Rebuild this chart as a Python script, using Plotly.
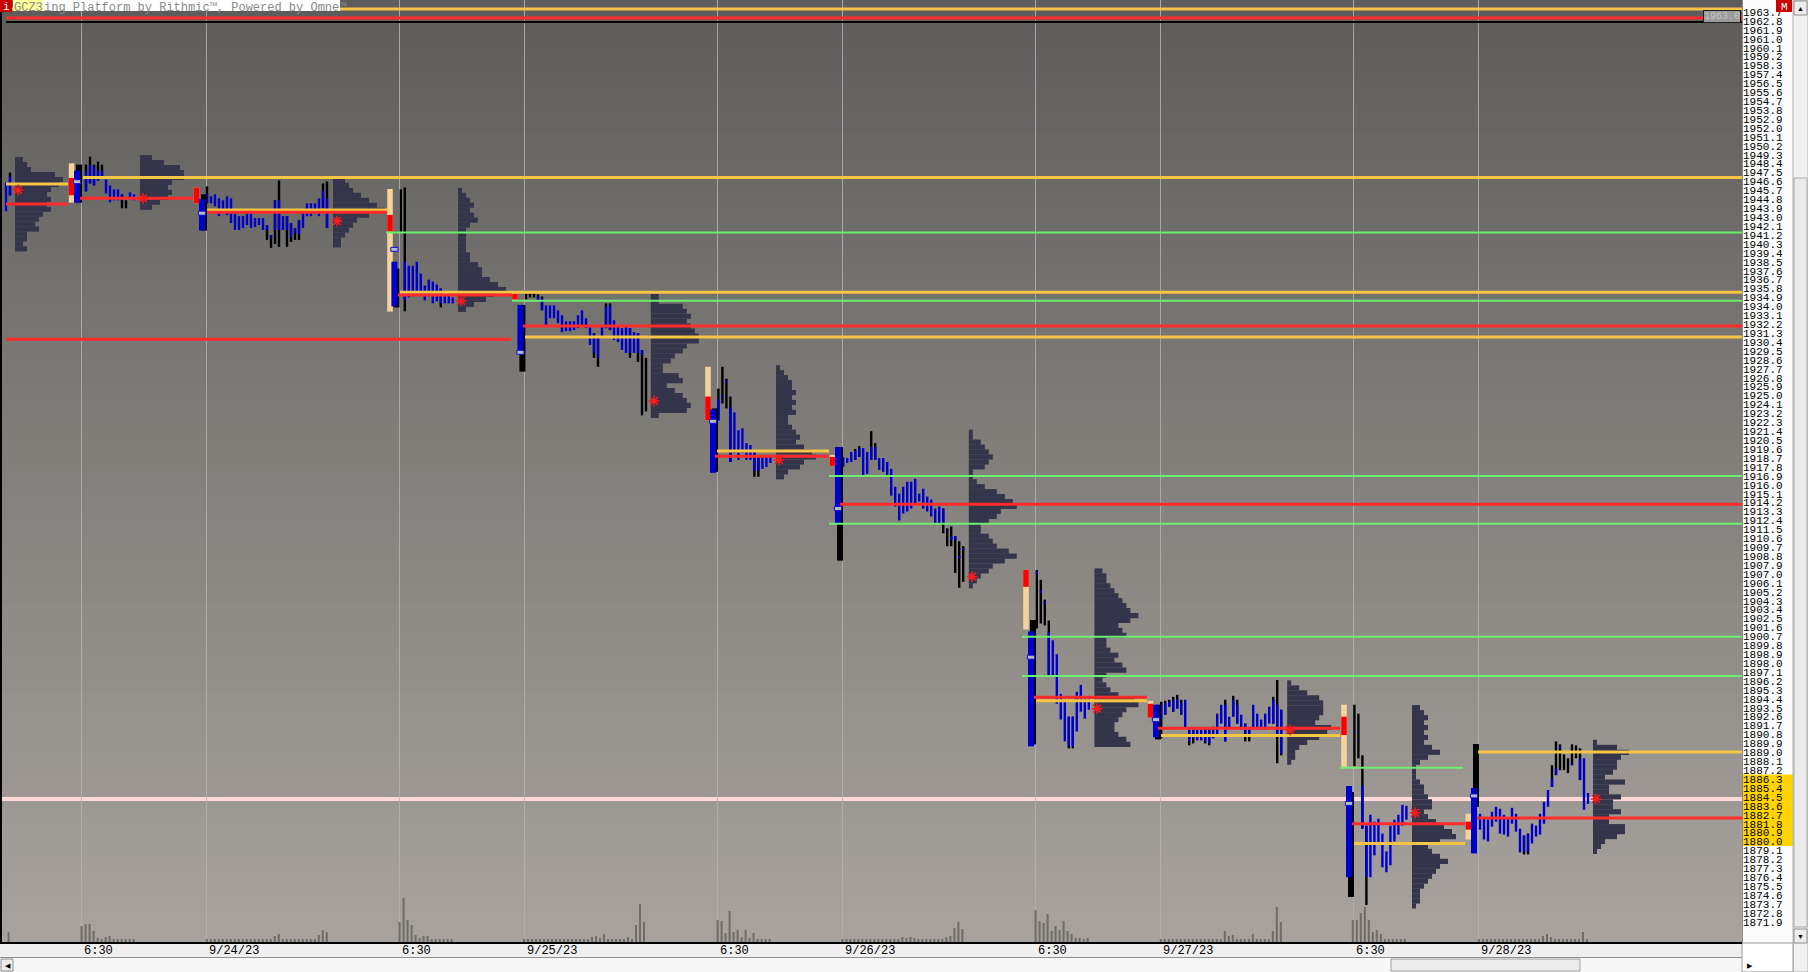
import plotly.graph_objects as go

# ------------------------------------------------------------------ axes / ticks
X_RANGE = [0, 435]                 # x unit = one 30-minute period slot
Y_RANGE = [1869.76, 1964.91]
X_TICK_POS = [19.83, 51.08, 99.33, 130.58, 178.83, 210.08, 258.33, 289.58, 337.83, 369.08]
X_TICK_TEXT = ["6:30", "9/24/23", "6:30", "9/25/23", "6:30", "9/26/23", "6:30", "9/27/23", "6:30", "9/28/23"]
Y_TICK_FIRST, Y_TICK_LAST, Y_TICK_STEP = 1871.9, 1963.7, 0.9
AXIS_HIGHLIGHT = (1886.3, 1880.0)
PROFILE_STEP = 0.5

# ------------------------------------------------------------------ sessions
# column = (x, tan_hi, tan_lo, red_hi, red_lo); ib = (x, black_hi, black_lo, blue_hi, blue_lo, open_mark)
# bars: (hi, lo) all blue, or (hi, lo, blue_hi, blue_lo) black range with blue part
S0_BAR_X = 1.0
S0_BARS = [(1946.5, 1943.6), (1947.5, 1945.2, 1947.1, 1945.2)]
S0_PROFILE_X, S0_PROFILE_TOP = 3.25, 1948.8
S0_PROFILE = [2, 3, 4, 10, 12, 11, 9, 8, 9, 8, 9, 7, 6, 5, 6, 3, 3, 2, 3]
S0_POC = (4.0, 1945.74)
S0_VOL_X, S0_VOL = 1.65, [11]

S1_COLUMN = (17.4, 1948.43, 1944.46, 1946.95, 1945.2)
S1_IB = (18.75, 1948.3, 1944.46, 1947.7, 1944.46, 1946.58)
S1_BAR_X = 21.0
S1_BARS = [(1948.3, 1945.6, 1947.7, 1945.6), (1949.1, 1946.4, 1948.3, 1946.4), (1948.3, 1946.2, 1948.1, 1946.2),
           (1948.6, 1946.7, 1947.7, 1946.7), (1948.3, 1947.0, 1947.7, 1947.0), (1946.8, 1945.4), (1946.2, 1944.5),
           (1945.8, 1944.7), (1945.8, 1944.7), (1945.3, 1943.9, 1945.3, 1944.7), (1944.7, 1943.9, None, None),
           (1945.5, 1944.9), (1945.3, 1944.7)]
S1_PROFILE_X, S1_PROFILE_TOP = 34.5, 1949.0
S1_PROFILE = [3, 6, 10, 11, 11, 8, 7, 8, 7, 5, 3]
S1_POC = (35.25, 1944.9)
S1_VOL_X, S1_VOL = 19.9, [17, 19, 19, 12, 5, 4, 6, 7, 4, 4, 4, 4, 4, 4]

S2_COLUMN = (48.6, 1946.0, 1944.4, 1946.0, 1944.4)
S2_IB = (50.0, 1945.3, 1941.65, 1944.8, 1941.65, 1943.4)
S2_BAR_X = 51.25
S2_BARS = [(1946.1, 1944.4, 1945.4, 1944.4), (1945.1, 1944.4), (1945.3, 1944.1), (1944.9, 1943.1), (1944.7, 1943.4),
           (1945.1, 1943.2), (1944.9, 1942.4), (1943.4, 1941.7), (1943.1, 1941.7), (1943.1, 1941.9), (1943.4, 1942.2),
           (1943.4, 1941.9), (1942.9, 1942.0), (1942.9, 1942.2), (1942.9, 1941.7), (1942.2, 1940.7, 1942.2, 1941.7),
           (1941.2, 1939.9, 1941.2, 1940.9), (1944.7, 1940.3, 1944.7, 1941.7), (1946.7, 1940.0, 1944.7, 1941.7),
           (1943.1, 1941.7), (1943.1, 1940.0, 1943.1, 1941.7), (1942.4, 1940.5, 1942.4, 1941.0),
           (1941.9, 1940.7, 1941.9, 1941.4), (1942.7, 1940.7, 1942.7, 1941.3), (1943.4, 1941.9), (1944.4, 1943.1),
           (1944.4, 1943.1), (1944.4, 1943.4), (1944.9, 1943.1), (1946.4, 1943.9, 1945.7, 1943.9),
           (1946.6, 1941.9, 1944.9, 1941.9)]
S2_PROFILE_X, S2_PROFILE_TOP = 82.75, 1946.7
S2_PROFILE = [3, 4, 5, 7, 9, 11, 13, 9, 6, 5, 4, 3, 2, 2]
S2_POC = (83.75, 1942.6)
S2_VOL_X = 51.2
S2_VOL = [4, 4, 4, 4, 4, 4, 4, 4, 4, 4, 4, 4, 4, 4, 4, 4, 4, 7, 9, 4, 4, 4, 4, 4, 4, 4, 4, 4, 8, 13, 11]

S3_COLUMN = (97.0, 1945.84, 1933.47, 1943.22, 1941.54)
S3_IB = (98.1, 1937.8, 1933.9, 1938.5, 1934.0, 1939.75)
S3_BAR_X = 99.7
S3_BARS = [(1945.8, 1941.5, None, None), (1946.0, 1933.5, 1938.5, 1934.6), (1938.1, 1934.9), (1938.1, 1935.0),
           (1938.5, 1935.3), (1937.3, 1935.1), (1936.1, 1934.6), (1936.7, 1935.0), (1936.5, 1934.3),
           (1936.2, 1934.5), (1935.8, 1933.9, 1935.8, 1934.3), (1935.1, 1934.3), (1935.1, 1934.3), (1934.9, 1934.3)]
S3_PROFILE_X, S3_PROFILE_TOP = 114.0, 1945.7
S3_PROFILE = [1, 2, 3, 4, 3, 4, 5, 3, 2, 2, 2, 2, 2, 3, 3, 5, 6, 6, 8, 10, 12, 9, 7, 4, 2]
S3_POC = (114.75, 1934.55)
S3_VOL_X, S3_VOL = 99.4, [21, 45, 23, 18, 8, 5, 7, 7, 4, 4, 4, 4, 4, 4]

S4_COLUMN = (128.25, 1935.5, 1934.7, 1935.3, 1934.7)
S4_IB = (129.6, 1934.14, 1927.41, 1934.14, 1929.3, 1929.36)
S4_BAR_X = 131.0
S4_BARS = [(1935.3, 1934.7, None, None), (1935.3, 1934.9, None, None), (1935.3, 1934.9, None, None),
           (1935.2, 1934.6, 1935.0, 1934.6), (1935.0, 1933.6, 1934.8, 1933.6), (1934.1, 1932.1), (1934.1, 1932.8),
           (1934.1, 1932.8), (1933.6, 1932.3), (1933.1, 1931.4), (1932.5, 1931.5), (1932.5, 1931.5),
           (1932.5, 1931.6), (1933.1, 1931.8), (1933.6, 1932.0), (1932.8, 1931.8), (1931.9, 1930.1),
           (1931.3, 1928.8, 1931.3, 1929.3), (1930.8, 1927.9, 1930.8, 1928.8), (1931.9, 1930.8),
           (1934.3, 1931.8, 1934.0, 1931.8), (1934.3, 1931.6, 1934.1, 1931.6), (1932.6, 1930.6), (1931.9, 1930.4),
           (1931.8, 1929.6), (1931.9, 1929.3), (1931.8, 1928.8, 1931.8, 1929.3), (1931.4, 1929.3),
           (1931.3, 1928.4, 1931.3, 1929.3), (1929.6, 1923.0, 1929.6, 1929.1), (1928.8, 1923.4, None, None)]
S4_PROFILE_X, S4_PROFILE_TOP = 162.2, 1935.0
S4_PROFILE = [2, 2, 8, 9, 10, 9, 10, 11, 12, 12, 9, 8, 6, 5, 3, 3, 7, 8, 4, 6, 8, 9, 10, 9, 2]
S4_POC = (163.0, 1924.45)
S4_VOL_X = 130.5
S4_VOL = [4, 4, 4, 4, 4, 4, 4, 4, 4, 4, 4, 4, 4, 4, 4, 4, 4, 6, 7, 5, 9, 4, 4, 4, 4, 4, 6, 4, 18, 39, 21]

S5_COLUMN = (176.5, 1927.9, 1922.5, 1924.9, 1922.5)
S5_IB = (177.75, 1923.7, 1917.3, 1923.6, 1917.2, 1922.4)
S5_BAR_X = 179.1
S5_BARS = [(1925.7, 1922.5, 1924.6, 1922.5), (1927.9, 1924.2, 1925.0, 1924.8), (1926.7, 1923.7, 1926.5, 1926.3),
           (1924.9, 1918.3, 1923.8, 1918.3), (1923.3, 1919.2), (1921.5, 1918.5), (1921.7, 1919.2),
           (1920.2, 1918.5), (1920.0, 1918.5), (1919.5, 1916.8, 1919.5, 1917.4), (1918.8, 1916.8, 1918.8, 1917.4),
           (1918.8, 1917.6), (1918.8, 1917.8), (1918.8, 1918.2)]
S5_PROFILE_X, S5_PROFILE_TOP = 193.5, 1927.8
S5_PROFILE = [1, 2, 3, 4, 4, 5, 4, 5, 4, 5, 3, 3, 4, 5, 6, 5, 7, 9, 10, 7, 6, 3, 2]
S5_POC = (194.25, 1918.5)
S5_VOL_X, S5_VOL = 178.9, [23, 22, 10, 32, 11, 13, 6, 13, 5, 10, 4, 4, 4, 4]

S6_COLUMN = (207.6, 1919.0, 1917.9, 1918.8, 1917.9)
S6_IB = (209.0, 1919.8, 1908.34, 1919.8, 1912.1, 1913.6)
S6_BAR_X = 210.3
S6_BARS = [(1918.8, 1917.8), (1918.7, 1918.2), (1919.3, 1918.3), (1919.6, 1918.5, 1919.4, 1918.5),
           (1919.9, 1918.8, 1919.7, 1918.8), (1919.7, 1917.0), (1919.3, 1917.1), (1921.4, 1918.5, 1919.8, 1918.5),
           (1920.2, 1918.5, 1919.8, 1918.5), (1918.7, 1917.5), (1918.7, 1917.3), (1918.3, 1917.0),
           (1917.6, 1914.9), (1915.8, 1913.8), (1915.1, 1912.4), (1915.8, 1913.1), (1916.3, 1913.3),
           (1916.3, 1913.6), (1916.6, 1914.1), (1915.1, 1914.3), (1915.6, 1913.6), (1914.8, 1913.3),
           (1914.5, 1912.8), (1913.6, 1912.1), (1913.8, 1912.1), (1913.6, 1911.1, 1913.6, 1912.1),
           (1911.6, 1909.8, 1911.4, 1911.3), (1911.8, 1909.8, 1910.8, 1910.4), (1910.8, 1907.1, 1910.8, 1910.4),
           (1910.3, 1905.6, 1908.8, 1908.6), (1909.8, 1906.2, 1909.6, 1909.4)]
S6_PROFILE_X, S6_PROFILE_TOP = 241.7, 1921.3
S6_PROFILE = [1, 1, 3, 4, 5, 6, 5, 4, 1, 1, 2, 4, 7, 9, 11, 12, 8, 7, 5, 3, 3, 5, 6, 7, 10, 12, 9, 6, 5, 3, 2, 1]
S6_POC = (242.5, 1906.72)
S6_VOL_X = 210.1
S6_VOL = [4, 4, 4, 4, 4, 4, 4, 4, 4, 4, 4, 4, 4, 4, 4, 6, 5, 6, 5, 4, 4, 4, 4, 4, 4, 4, 6, 7, 15, 21, 14]

S7_COLUMN = (256.0, 1907.4, 1901.4, 1907.4, 1905.7)
S7_IB = (257.25, 1902.35, 1889.8, 1901.2, 1889.6, 1898.6)
S7_BAR_X = 258.7
S7_BARS = [(1907.4, 1901.5, 1907.2, 1907.0), (1906.4, 1902.0, 1905.3, 1905.1), (1904.4, 1901.8, 1904.2, 1904.0),
           (1902.3, 1896.8, 1901.1, 1896.8), (1900.3, 1896.8), (1898.9, 1893.9), (1894.9, 1892.3),
           (1894.3, 1890.1), (1892.6, 1889.4, 1892.6, 1889.6), (1892.6, 1889.4, 1892.6, 1889.6),
           (1895.1, 1891.1), (1895.8, 1893.1), (1894.4, 1892.4), (1894.4, 1893.3)]
S7_PROFILE_X, S7_PROFILE_TOP = 273.1, 1907.3
S7_PROFILE = [2, 3, 3, 4, 5, 6, 7, 8, 9, 11, 9, 6, 7, 8, 3, 3, 4, 6, 5, 7, 8, 3, 2, 3, 4, 6, 10, 11, 8, 7,
              6, 5, 5, 6, 8, 9]
S7_POC = (273.75, 1893.4)
S7_VOL_X, S7_VOL = 258.4, [33, 22, 20, 29, 12, 17, 13, 22, 12, 9, 5, 5, 4, 5]

S8_COLUMN = (287.1, 1894.2, 1892.5, 1893.9, 1892.5)
S8_IB = (288.5, 1893.8, 1890.3, 1893.8, 1890.5, 1892.3)
S8_BAR_X = 289.8
S8_BARS = [(1894.1, 1890.4, 1893.8, 1892.4), (1894.2, 1892.8, 1894.0, 1892.8), (1894.3, 1893.6, 1894.1, 1893.6),
           (1894.6, 1893.1, 1894.3, 1893.1), (1894.8, 1893.4, 1894.4, 1893.4), (1894.3, 1892.8, 1894.0, 1892.8),
           (1894.3, 1891.4), (1891.3, 1889.7, 1891.3, 1890.1), (1891.3, 1889.9, 1891.3, 1890.4), (1891.3, 1890.2),
           (1891.3, 1890.2), (1891.4, 1889.9, 1891.4, 1890.1), (1891.3, 1889.7, 1891.3, 1889.9), (1891.6, 1890.4),
           (1892.9, 1890.8), (1893.8, 1891.9), (1894.3, 1890.1, 1893.8, 1890.1), (1892.6, 1891.3),
           (1894.7, 1892.6, 1894.3, 1892.6), (1894.3, 1891.9, 1893.8, 1891.9), (1892.8, 1891.3),
           (1891.9, 1890.1, 1891.9, 1890.9), (1891.3, 1890.1, 1891.3, 1890.6), (1893.8, 1891.3), (1892.9, 1891.3),
           (1892.3, 1891.3), (1892.9, 1891.3), (1893.6, 1891.9), (1894.6, 1891.9, 1894.3, 1891.9),
           (1896.3, 1887.9, 1893.8, 1890.6), (1893.3, 1888.7, 1893.3, 1888.9)]
S8_PROFILE_X, S8_PROFILE_TOP = 321.3, 1896.0
S8_PROFILE = [1, 3, 5, 8, 9, 9, 9, 8, 7, 11, 10, 8, 5, 3, 2, 2, 1]
S8_POC = (322.0, 1891.26)
S8_VOL_X = 289.7
S8_VOL = [4, 4, 4, 4, 4, 4, 4, 4, 4, 4, 4, 4, 4, 4, 4, 4, 12, 7, 8, 4, 4, 4, 4, 9, 4, 4, 4, 4, 12, 36, 21]

S9_COLUMN = (335.5, 1893.8, 1887.5, 1892.6, 1890.75)
S9_IB = (336.75, 1885.0, 1874.4, 1885.6, 1876.4, 1883.84)
S9_BAR_X = 338.1
S9_BARS = [(1893.8, 1887.6, 1891.2, 1891.1), (1892.9, 1888.4, 1890.2, 1890.1), (1888.7, 1881.3, 1885.6, 1881.3),
           (1881.6, 1873.6, 1881.6, 1876.4), (1882.7, 1876.4), (1882.0, 1878.6), (1882.3, 1879.7),
           (1880.8, 1877.4), (1879.0, 1876.9), (1881.6, 1877.6), (1882.2, 1880.0), (1882.7, 1880.7),
           (1883.7, 1881.6), (1883.6, 1882.2)]
S9_PROFILE_X, S9_PROFILE_TOP = 352.5, 1893.5
S9_PROFILE = [2, 3, 4, 3, 4, 3, 4, 3, 5, 7, 4, 2, 1, 1, 1, 2, 3, 3, 4, 5, 5, 3, 4, 6, 8, 10, 11, 7, 4, 5,
              7, 9, 7, 6, 5, 4, 3, 2, 2, 2, 1]
S9_POC = (353.25, 1882.9)
S9_VOL_X, S9_VOL = 337.7, [23, 23, 30, 36, 23, 11, 13, 9, 4, 4, 4, 4, 4, 4]

S10_COLUMN = (366.6, 1882.8, 1880.2, 1882.0, 1881.2)
S10_IB = (368.0, 1889.84, 1883.5, 1885.4, 1878.8, 1884.6)
S10_BAR_X = 369.5
S10_BARS = [(1882.8, 1881.2), (1882.3, 1880.2), (1882.2, 1880.0), (1883.0, 1881.5), (1883.5, 1882.0),
            (1883.3, 1880.8), (1882.7, 1880.7), (1882.3, 1880.5), (1883.4, 1881.8), (1882.8, 1881.0),
            (1881.3, 1878.9), (1880.6, 1878.7, 1880.6, 1879.0), (1880.8, 1878.7, 1880.8, 1879.0),
            (1881.8, 1879.8), (1881.6, 1880.5), (1882.8, 1880.7), (1884.0, 1881.8), (1885.2, 1883.5),
            (1887.7, 1885.5, 1886.4, 1885.5), (1890.1, 1886.7, 1887.4, 1886.7), (1889.8, 1887.2, 1889.6, 1889.4),
            (1888.8, 1887.2, None, None), (1888.4, 1886.9, None, None), (1889.8, 1887.7, 1887.9, 1887.7),
            (1889.7, 1888.4, None, None), (1889.4, 1886.2, 1888.4, 1886.2), (1888.4, 1883.2), (1884.9, 1883.8)]
S10_PROFILE_X, S10_PROFILE_TOP = 397.75, 1890.0
S10_PROFILE = [1, 6, 9, 7, 6, 6, 5, 3, 8, 4, 4, 7, 5, 5, 7, 4, 4, 8, 8, 6, 3, 2, 1]
S10_POC = (398.5, 1884.3)
S10_VOL_X = 369.25
S10_VOL = [4, 4, 4, 4, 4, 4, 4, 4, 4, 4, 4, 4, 4, 4, 4, 4, 7, 9, 6, 4, 4, 4, 4, 4, 4, 4, 11, 4]

# ------------------------------------------------------------------ reference levels (price, x_from, x_to; None = to edge)
GOLD_LEVELS = [(1964.0, 0, None), (1947.0, 20.25, None), (1935.42, 99.5, None), (1930.9, 130.75, None),
               (1889.03, 369.0, None), (1946.35, 1.0, 16.5), (1943.72, 51.25, 96.25), (1919.4, 178.75, 206.75),
               (1894.2, 258.5, 286.25), (1890.7, 289.75, 334.5), (1879.8, 338.0, 365.75)]
RED_LEVELS = [(1963.1, 1.0, None), (1932.02, 130.25, None), (1914.03, 209.5, None), (1882.37, 368.75, None),
              (1944.33, 1.0, 16.5), (1944.9, 19.5, 47.75), (1943.5, 51.25, 96.25), (1930.67, 1.0, 127.25),
              (1935.15, 99.0, 127.5), (1918.87, 178.25, 206.75), (1894.55, 258.0, 286.25),
              (1891.43, 289.0, 334.5), (1881.8, 337.5, 365.75)]
GREEN_LEVELS = [(1941.45, 96.0, None), (1934.57, 127.5, None), (1916.88, 206.75, None), (1912.07, 206.75, None),
                (1900.67, 255.0, None), (1896.7, 255.0, None), (1887.45, 334.5, 365.25)]
BLACK_LEVELS = [(1962.7, 1.0, None)]
PINK_LEVEL = 1884.29

# ------------------------------------------------------------------ colours
C_BLUE, C_BLACK, C_TAN, C_RED = "#0000cc", "#000000", "#f5d29a", "#ff0000"
C_PROFILE, C_VOL = "#34344a", "#6e6b69"
C_GOLD, C_LRED, C_GREEN, C_PINK = "#f5c544", "#ff2a2a", "#6cef6c", "#ffd8d8"
BG_TOP, BG_BOTTOM = (93, 92, 90), (168, 163, 158)

SESSIONS = [
    dict(column=None, ib=None, bar_x=S0_BAR_X, bars=S0_BARS, px=S0_PROFILE_X, ptop=S0_PROFILE_TOP, prof=S0_PROFILE, poc=S0_POC, vx=S0_VOL_X, vol=S0_VOL),
    dict(column=S1_COLUMN, ib=S1_IB, bar_x=S1_BAR_X, bars=S1_BARS, px=S1_PROFILE_X, ptop=S1_PROFILE_TOP, prof=S1_PROFILE, poc=S1_POC, vx=S1_VOL_X, vol=S1_VOL),
    dict(column=S2_COLUMN, ib=S2_IB, bar_x=S2_BAR_X, bars=S2_BARS, px=S2_PROFILE_X, ptop=S2_PROFILE_TOP, prof=S2_PROFILE, poc=S2_POC, vx=S2_VOL_X, vol=S2_VOL),
    dict(column=S3_COLUMN, ib=S3_IB, bar_x=S3_BAR_X, bars=S3_BARS, px=S3_PROFILE_X, ptop=S3_PROFILE_TOP, prof=S3_PROFILE, poc=S3_POC, vx=S3_VOL_X, vol=S3_VOL),
    dict(column=S4_COLUMN, ib=S4_IB, bar_x=S4_BAR_X, bars=S4_BARS, px=S4_PROFILE_X, ptop=S4_PROFILE_TOP, prof=S4_PROFILE, poc=S4_POC, vx=S4_VOL_X, vol=S4_VOL),
    dict(column=S5_COLUMN, ib=S5_IB, bar_x=S5_BAR_X, bars=S5_BARS, px=S5_PROFILE_X, ptop=S5_PROFILE_TOP, prof=S5_PROFILE, poc=S5_POC, vx=S5_VOL_X, vol=S5_VOL),
    dict(column=S6_COLUMN, ib=S6_IB, bar_x=S6_BAR_X, bars=S6_BARS, px=S6_PROFILE_X, ptop=S6_PROFILE_TOP, prof=S6_PROFILE, poc=S6_POC, vx=S6_VOL_X, vol=S6_VOL),
    dict(column=S7_COLUMN, ib=S7_IB, bar_x=S7_BAR_X, bars=S7_BARS, px=S7_PROFILE_X, ptop=S7_PROFILE_TOP, prof=S7_PROFILE, poc=S7_POC, vx=S7_VOL_X, vol=S7_VOL),
    dict(column=S8_COLUMN, ib=S8_IB, bar_x=S8_BAR_X, bars=S8_BARS, px=S8_PROFILE_X, ptop=S8_PROFILE_TOP, prof=S8_PROFILE, poc=S8_POC, vx=S8_VOL_X, vol=S8_VOL),
    dict(column=S9_COLUMN, ib=S9_IB, bar_x=S9_BAR_X, bars=S9_BARS, px=S9_PROFILE_X, ptop=S9_PROFILE_TOP, prof=S9_PROFILE, poc=S9_POC, vx=S9_VOL_X, vol=S9_VOL),
    dict(column=S10_COLUMN, ib=S10_IB, bar_x=S10_BAR_X, bars=S10_BARS, px=S10_PROFILE_X, ptop=S10_PROFILE_TOP, prof=S10_PROFILE, poc=S10_POC, vx=S10_VOL_X, vol=S10_VOL),
]

# ------------------------------------------------------------------ build trace arrays
blk_x, blk_b, blk_h = [], [], []
blu_x, blu_b, blu_h = [], [], []
tan_x, tan_b, tan_h, red_x, red_b, red_h = [], [], [], [], [], []
ibk_x, ibk_b, ibk_h, ibb_x, ibb_b, ibb_h = [], [], [], [], [], []
pr_y, pr_w, pr_base = [], [], []
poc_x, poc_y = [], []
v_x, v_y = [], []
open_marks = []

for s in SESSIONS:
    for i, bar in enumerate(s["bars"]):
        x = s["bar_x"] + i
        if len(bar) == 2:
            blu_x.append(x); blu_b.append(bar[1]); blu_h.append(bar[0] - bar[1])
        else:
            blk_x.append(x); blk_b.append(bar[1]); blk_h.append(bar[0] - bar[1])
            if bar[2] is not None:
                blu_x.append(x); blu_b.append(bar[3]); blu_h.append(bar[2] - bar[3])
    if s["column"]:
        cx, th, tl, rh, rl = s["column"]
        tan_x.append(cx); tan_b.append(tl); tan_h.append(th - tl)
        red_x.append(cx); red_b.append(rl); red_h.append(rh - rl)
    if s["ib"]:
        ix, kh, kl, bh, bl, om = s["ib"]
        ibk_x.append(ix + 0.5); ibk_b.append(kl); ibk_h.append(kh - kl)
        ibb_x.append(ix); ibb_b.append(bl); ibb_h.append(bh - bl)
        open_marks.append((ix, om))
    for i, w in enumerate(s["prof"]):
        pr_y.append(s["ptop"] - PROFILE_STEP * i); pr_w.append(w); pr_base.append(s["px"])
    poc_x.append(s["poc"][0]); poc_y.append(s["poc"][1])
    for i, v in enumerate(s["vol"]):
        v_x.append(s["vx"] + i); v_y.append(v)

fig = go.Figure()
common = dict(hoverinfo="skip", marker_line_width=0, showlegend=False)

fig.add_trace(go.Bar(x=v_x, y=v_y, width=0.5, marker_color=C_VOL, yaxis="y2", **common))
fig.add_trace(go.Bar(y=pr_y, x=pr_w, base=pr_base, orientation="h", width=PROFILE_STEP * 1.04,
                     marker_color=C_PROFILE, **common))
fig.add_trace(go.Bar(x=blk_x, y=blk_h, base=blk_b, width=0.6, marker_color=C_BLACK, **common))
fig.add_trace(go.Bar(x=blu_x, y=blu_h, base=blu_b, width=0.6, marker_color=C_BLUE, **common))
fig.add_trace(go.Bar(x=tan_x, y=tan_h, base=tan_b, width=1.4, marker_color=C_TAN, **common))
fig.add_trace(go.Bar(x=red_x, y=red_h, base=red_b, width=1.4, marker_color=C_RED, **common))
fig.add_trace(go.Bar(x=ibk_x, y=ibk_h, base=ibk_b, width=1.5, marker_color=C_BLACK, **common))
fig.add_trace(go.Bar(x=ibb_x, y=ibb_h, base=ibb_b, width=1.5, marker_color=C_BLUE, **common))


def level_trace(levels, color, width):
    xs, ys = [], []
    for p, x0, x1 in levels:
        xs += [x0, X_RANGE[1] if x1 is None else x1, None]
        ys += [p, p, None]
    return go.Scatter(x=xs, y=ys, mode="lines", line=dict(color=color, width=width),
                      hoverinfo="skip", showlegend=False)


fig.add_trace(level_trace(GREEN_LEVELS, C_GREEN, 2))
fig.add_trace(level_trace(GOLD_LEVELS, C_GOLD, 3))
fig.add_trace(level_trace(RED_LEVELS, C_LRED, 3))
fig.add_trace(level_trace(BLACK_LEVELS, C_BLACK, 2))
fig.add_trace(go.Scatter(x=poc_x, y=poc_y, mode="markers",
                         marker=dict(symbol="asterisk-open", size=9, color="#ff1a1a",
                                     line=dict(color="#ff1a1a", width=1.5)),
                         hoverinfo="skip", showlegend=False))

# ------------------------------------------------------------------ shapes (chrome + background)
PW, PH = 1740.0, 943.0


def fx(px):
    return (px - 2) / PW


def fy(py):
    return (PH - py) / PH


shapes = []
N = 64
for k in range(N):
    t = (k + 0.5) / N
    c = tuple(round(BG_TOP[j] + (BG_BOTTOM[j] - BG_TOP[j]) * t) for j in range(3))
    shapes.append(dict(type="rect", xref="paper", yref="paper", x0=0, x1=1, y0=1 - (k + 1) / N - 0.001,
                       y1=1 - k / N + 0.001, fillcolor="rgb(%d,%d,%d)" % c, line_width=0, layer="below"))
shapes.append(dict(type="line", xref="x", yref="y", x0=X_RANGE[0], x1=X_RANGE[1], y0=PINK_LEVEL, y1=PINK_LEVEL,
                   line=dict(color=C_PINK, width=4), layer="below"))
# price-axis panel and highlight
shapes.append(dict(type="rect", xref="paper", yref="paper", x0=fx(1742), x1=fx(1793), y0=0, y1=1,
                   fillcolor="#fbfbfb", line_width=0, layer="below"))
shapes.append(dict(type="rect", xref="paper", yref="y", x0=fx(1743), x1=fx(1793),
                   y0=AXIS_HIGHLIGHT[1] - 0.45, y1=AXIS_HIGHLIGHT[0] + 0.45, fillcolor="#ffd400",
                   line_width=0, layer="below"))
shapes.append(dict(type="line", xref="paper", yref="paper", x0=fx(1742.5), x1=fx(1742.5), y0=0, y1=1,
                   line=dict(color="#8c8c8c", width=1), layer="above"))
# right scrollbar
shapes.append(dict(type="rect", xref="paper", yref="paper", x0=fx(1793), x1=fx(1808), y0=fy(972), y1=1,
                   fillcolor="#f1f1f1", line=dict(color="#b0b0b0", width=1), layer="above"))
shapes.append(dict(type="rect", xref="paper", yref="paper", x0=fx(1794), x1=fx(1807), y0=fy(927), y1=fy(178),
                   fillcolor="#ebebeb", line=dict(color="#a8a8a8", width=1), layer="above"))
shapes.append(dict(type="rect", xref="paper", yref="paper", x0=fx(1794), x1=fx(1807), y0=fy(15), y1=fy(1),
                   fillcolor="#ececec", line=dict(color="#909090", width=1), layer="above"))
shapes.append(dict(type="rect", xref="paper", yref="paper", x0=fx(1794), x1=fx(1807), y0=fy(943), y1=fy(929),
                   fillcolor="#ececec", line=dict(color="#909090", width=1), layer="above"))
# bottom bands
shapes.append(dict(type="rect", xref="paper", yref="paper", x0=fx(0), x1=fx(1742), y0=fy(957.5), y1=0,
                   fillcolor="#efefef", line_width=0, layer="above"))
shapes.append(dict(type="line", xref="paper", yref="paper", x0=fx(0), x1=fx(1742), y0=fy(957.5), y1=fy(957.5),
                   line=dict(color="#909090", width=1), layer="above"))
shapes.append(dict(type="rect", xref="paper", yref="paper", x0=fx(0), x1=fx(1742), y0=fy(972), y1=fy(958),
                   fillcolor="#f7f7f7", line_width=0, layer="above"))
shapes.append(dict(type="rect", xref="paper", yref="paper", x0=fx(1), x1=fx(13), y0=fy(971), y1=fy(959),
                   fillcolor="#ececec", line=dict(color="#909090", width=1), layer="above"))
shapes.append(dict(type="rect", xref="paper", yref="paper", x0=fx(1391), x1=fx(1580), y0=fy(971), y1=fy(959),
                   fillcolor="#ececec", line=dict(color="#a0a0a0", width=1), layer="above"))
shapes.append(dict(type="rect", xref="paper", yref="paper", x0=fx(1743), x1=fx(1757), y0=fy(971), y1=fy(959),
                   fillcolor="#ececec", line=dict(color="#909090", width=1), layer="above"))
shapes.append(dict(type="rect", xref="paper", yref="paper", x0=fx(1742), x1=fx(1793), y0=fy(972), y1=0,
                   fillcolor="#ffffff", line=dict(color="#9a9a9a", width=1), layer="above"))
shapes.append(dict(type="line", xref="paper", yref="paper", x0=fx(0), x1=fx(1742), y0=0, y1=0,
                   line=dict(color="#000000", width=2), layer="above"))
shapes.append(dict(type="rect", xref="paper", yref="paper", x0=fx(0), x1=fx(2), y0=0, y1=1,
                   fillcolor="#000000", line_width=0, layer="above"))
# header boxes
shapes.append(dict(type="rect", xref="paper", yref="paper", x0=fx(0), x1=fx(12), y0=fy(12), y1=1,
                   fillcolor="#cc0000", line_width=0, layer="above"))
shapes.append(dict(type="rect", xref="paper", yref="paper", x0=fx(13), x1=fx(43), y0=fy(11), y1=1,
                   fillcolor="#ffff99", line_width=0, layer="above"))
shapes.append(dict(type="rect", xref="paper", yref="paper", x0=fx(43), x1=fx(340), y0=fy(11), y1=1,
                   fillcolor="#ffffff", line_width=0, layer="above"))
shapes.append(dict(type="rect", xref="paper", yref="paper", x0=fx(1776), x1=fx(1792), y0=fy(12), y1=1,
                   fillcolor="#cc0000", line_width=0, layer="above"))
for ix, om in open_marks:
    shapes.append(dict(type="rect", xref="x", yref="y", x0=ix - 0.9, x1=ix + 0.9, y0=om - 0.2, y1=om + 0.2,
                       fillcolor="#b4b9c6", line=dict(color="#1010d0", width=1), layer="above"))

MONO = "Liberation Mono"
annotations = []
for xv, txt in zip(X_TICK_POS, X_TICK_TEXT):
    annotations.append(dict(x=xv, xref="x", y=fy(950.5), yref="paper", text=txt, showarrow=False,
                            xanchor="left", yanchor="middle", xshift=1, font=dict(family=MONO, size=12, color="#000")))
annotations += [
    dict(x=fx(6), y=1, xref="paper", yref="paper", text="i", showarrow=False, xanchor="center",
         yanchor="top", borderpad=0, font=dict(family=MONO, size=11, color="#ffffff")),
    dict(x=fx(13), y=1, xref="paper", yref="paper", text="GCZ3", showarrow=False, xanchor="left",
         yanchor="top", borderpad=0, font=dict(family=MONO, size=12, color="#8a8a8a")),
    dict(x=fx(43), y=1, xref="paper", yref="paper", text="ing Platform by Rithmic™, Powered by Omne™",
         showarrow=False, xanchor="left", yanchor="top", borderpad=0,
         font=dict(family=MONO, size=12, color="#8a8a8a")),
    dict(x=fx(1784), y=1, xref="paper", yref="paper", text="M", showarrow=False, xanchor="center",
         yanchor="top", borderpad=0, font=dict(family=MONO, size=11, color="#ffffff")),
    dict(x=fx(1741), y=fy(16), xref="paper", yref="paper", text="1963.0", showarrow=False, xanchor="right",
         yanchor="middle", bgcolor="#9b9b9b", bordercolor="#202020", borderwidth=1, borderpad=0,
         font=dict(family=MONO, size=10, color="#c4c4c4")),
    dict(x=fx(1800.5), y=fy(8), xref="paper", yref="paper", text="▲", showarrow=False, xanchor="center",
         yanchor="middle", font=dict(size=7, color="#000")),
    dict(x=fx(1800.5), y=fy(936), xref="paper", yref="paper", text="▼", showarrow=False, xanchor="center",
         yanchor="middle", font=dict(size=7, color="#000")),
    dict(x=fx(7.5), y=fy(965), xref="paper", yref="paper", text="◀", showarrow=False, xanchor="center",
         yanchor="middle", font=dict(size=7, color="#000")),
    dict(x=fx(1750), y=fy(965), xref="paper", yref="paper", text="▶", showarrow=False, xanchor="center",
         yanchor="middle", font=dict(size=7, color="#000")),
]

n_ticks = int(round((Y_TICK_LAST - Y_TICK_FIRST) / Y_TICK_STEP)) + 1
y_ticks = [round(Y_TICK_FIRST + Y_TICK_STEP * k, 1) for k in range(n_ticks)]

fig.update_layout(
    width=1808, height=972,
    margin=dict(l=2, r=66, t=0, b=29, autoexpand=False),
    paper_bgcolor="#f0f0f0", plot_bgcolor="#858280",
    barmode="overlay", showlegend=False,
    shapes=shapes, annotations=annotations,
    xaxis=dict(range=X_RANGE, tickvals=X_TICK_POS, showticklabels=False, ticks="", showgrid=True,
               gridcolor="rgba(178,178,178,0.85)", gridwidth=1, zeroline=False, showline=False,
               fixedrange=True, automargin=False),
    yaxis=dict(range=Y_RANGE, side="right", tickvals=y_ticks, ticktext=["%.1f" % v for v in y_ticks],
               tickfont=dict(family=MONO, size=11, color="#000000"), ticks="", showgrid=False,
               zeroline=False, showline=False, fixedrange=True, automargin=False),
    yaxis2=dict(range=[0, PH], overlaying="y", visible=False, fixedrange=True, automargin=False),
)

fig.write_html("out.html", config={"displayModeBar": False, "staticPlot": True},
               post_script="document.body.style.margin='0';document.body.style.overflow='hidden';")
